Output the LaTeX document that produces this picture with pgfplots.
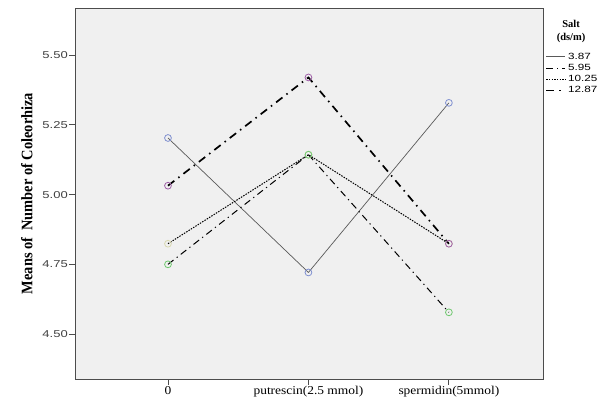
\documentclass[border=0pt]{standalone}
\usepackage{fontspec}
\setmainfont{Liberation Serif}
\setsansfont{Liberation Sans}
\newfontfamily\tickfont[FakeStretch=1.3]{Liberation Sans}
\newfontfamily\catfont[FakeStretch=1.12]{Liberation Serif}
\newfontfamily\labfont[FakeStretch=0.9]{Liberation Serif}
\usepackage{pgfplots}
\pgfplotsset{compat=1.18}

\definecolor{plotbg}{HTML}{F0F0F0}
\definecolor{mkblue}{HTML}{8090D0}
\definecolor{mkgreen}{HTML}{70C870}
\definecolor{mkbeige}{HTML}{D8D8B0}
\definecolor{mkpurple}{HTML}{A060A8}

\begin{document}
\begin{tikzpicture}
\useasboundingbox (-75pt,-22pt) rectangle (537pt,379pt);
\begin{axis}[
    at={(0,0)}, anchor=south west,
    scale only axis,
    width=468pt, height=371pt,
    xmin=-0.662, xmax=2.67,
    ymin=4.339, ymax=5.669,
    axis background/.style={fill=plotbg},
    axis line style={draw=black!70, line width=0.8pt},
    xtick pos=bottom, ytick pos=left,
    xtick={0,1,2},
    xticklabels={0, putrescin(2.5 mmol), spermidin(5mmol)},
    ytick={4.5,4.75,5,5.25,5.5},
    yticklabel style={/pgf/number format/fixed, /pgf/number format/fixed zerofill,
        /pgf/number format/precision=2, font=\tickfont\fontsize{10}{11}\selectfont,
        text=black!75, inner xsep=1pt},
    /pgf/number format/assume math mode=true,
    xticklabel style={font=\catfont\fontsize{12}{13}\selectfont, inner ysep=1pt},
    tick align=outside,
    major tick length=6pt,
    tick style={black!70, line width=0.8pt},
    ylabel={\textbf{Means of\ \ Number of Coleorhiza}},
    ylabel style={font=\labfont\fontsize{16}{17}\selectfont, at={(axis description cs:-0.103,0.5)}, anchor=center},
    legend style={at={(1.0045,0.885)}, anchor=north west, draw=none, fill=none,
        font=\tickfont\fontsize{9}{10}\selectfont, inner xsep=0pt, inner ysep=0pt,
        row sep=-0.5pt, cells={anchor=west}},
    legend image code/.code={\draw[#1] (0pt,0pt) -- (19pt,0pt);},
    clip=false,
]
% lines
\addplot[black!65, line width=0.7pt] coordinates {(0,5.203) (1,4.721) (2,5.329)};
\addlegendentry{3.87}
\addplot[black, line width=1pt, dash pattern=on 7pt off 4pt on 1.2pt off 4pt] coordinates {(0,4.750) (1,5.143) (2,4.578)};
\addlegendentry{5.95}
\addplot[black, line width=1pt, dash pattern=on 1.5pt off 1.2pt] coordinates {(0,4.824) (1,5.143) (2,4.824)};
\addlegendentry{10.25}
\addplot[black, line width=1.7pt, dash pattern=on 8pt off 5pt on 1.5pt off 5pt] coordinates {(0,5.032) (1,5.420) (2,4.824)};
\addlegendentry{12.87}
% markers
\addplot[forget plot, only marks, mark=o, mark size=3.4pt, mark options={draw=mkbeige, line width=0.8pt}] coordinates {(0,4.824) (1,5.143) (2,4.824)};
\addplot[forget plot, only marks, mark=o, mark size=3.4pt, mark options={draw=mkgreen, line width=0.8pt}] coordinates {(0,4.750) (1,5.143) (2,4.578)};
\addplot[forget plot, only marks, mark=o, mark size=3.4pt, mark options={draw=mkpurple, line width=0.8pt}] coordinates {(0,5.032) (1,5.420) (2,4.824)};
\addplot[forget plot, only marks, mark=o, mark size=3.4pt, mark options={draw=mkblue, line width=0.8pt}] coordinates {(0,5.203) (1,4.721) (2,5.329)};
\node[font=\bfseries\fontsize{10.5}{13}\selectfont, align=center] at (rel axis cs:1.06,0.938) {Salt\\(ds/m)};
\end{axis}
\end{tikzpicture}
\end{document}
